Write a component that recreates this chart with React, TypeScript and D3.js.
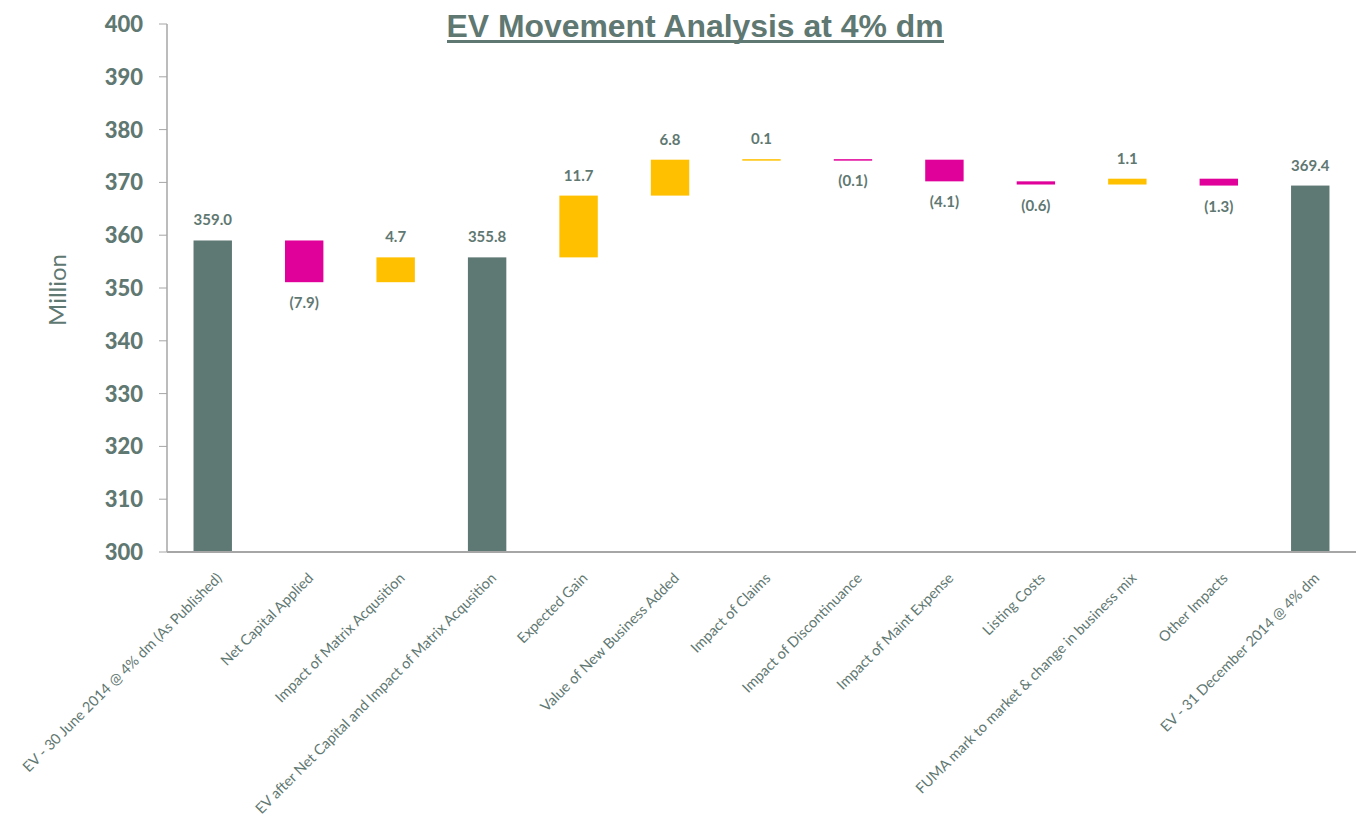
import React from "react";
import * as d3 from "d3";

// DATA
const categories = [
  "EV - 30 June 2014 @ 4% dm (As Published)",
  "Net Capital Applied",
  "Impact of Matrix Acqusition",
  "EV after Net Capital and Impact of Matrix Acqusition",
  "Expected Gain",
  "Value of New Business Added",
  "Impact of Claims",
  "Impact of Discontinuance",
  "Impact of Maint Expense",
  "Listing Costs",
  "FUMA mark to market & change  in business mix",
  "Other Impacts",
  "EV - 31 December 2014 @ 4% dm",
];
const values = [359.0, -7.9, 4.7, 355.8, 11.7, 6.8, 0.1, -0.1, -4.1, -0.6, 1.1, -1.3, 369.4];
const isTotal = [true, false, false, true, false, false, false, false, false, false, false, false, true];
const yTicks = [300, 310, 320, 330, 340, 350, 360, 370, 380, 390, 400];

const W = 1358;
const H = 820;
const TEAL = "#5E7873";
const MAGENTA = "#E0009A";
const GOLD = "#FFC000";
const TEXT = "#5F7872";
const LABEL_FONT = "Lato, 'Open Sans', sans-serif";

export default function App() {
  // SCALES
  const margin = { top: 24, right: 2, bottom: 268, left: 167 };
  const yScale = d3
    .scaleLinear()
    .domain([300, 400])
    .range([H - margin.bottom, margin.top]);
  const xScale = d3
    .scalePoint()
    .domain(categories)
    .range([margin.left, W - margin.right])
    .padding(0.5);
  const barW = xScale.step() * 0.42;
  const axisY = yScale(300);

  // WATERFALL STEPS
  let running = 0;
  const bars = values.map((v, i) => {
    let lo, hi;
    if (isTotal[i]) {
      running = v;
      lo = 300;
      hi = v;
    } else {
      const start = running;
      running = +(running + v).toFixed(1);
      lo = Math.min(start, running);
      hi = Math.max(start, running);
    }
    return { cat: categories[i], v, lo, hi, total: isTotal[i] };
  });

  const fmt = (v) => (v < 0 ? `(${Math.abs(v).toFixed(1)})` : v.toFixed(1));

  return (
    <svg
      width={W}
      height={H}
      style={{ position: "absolute", left: 0, top: 0, background: "#fff" }}
    >
      {/* TITLE */}
      <text
        x={695}
        y={37}
        textAnchor="middle"
        textLength={497}
        lengthAdjust="spacingAndGlyphs"
        fontFamily="'Liberation Sans', Arial, sans-serif"
        fontWeight="bold"
        fontSize={31}
        fill={TEXT}
      >
        EV Movement Analysis at 4% dm
      </text>
      <rect x={447} y={40} width={497} height={3} fill={TEXT} />

      {/* Y AXIS TITLE */}
      <text
        transform={`translate(66,290) rotate(-90)`}
        textAnchor="middle"
        fontFamily={LABEL_FONT}
        fontSize={24}
        fill={TEXT}
      >
        Million
      </text>

      {/* Y AXIS */}
      <line x1={margin.left} x2={margin.left} y1={yScale(400)} y2={axisY} stroke="#A6A6A6" strokeWidth={1.5} />
      {yTicks.map((t) => (
        <g key={t}>
          <line x1={margin.left - 8} x2={margin.left} y1={yScale(t)} y2={yScale(t)} stroke="#A6A6A6" strokeWidth={1} />
          <text
            x={143}
            y={yScale(t)}
            dy="0.36em"
            textAnchor="end"
            fontFamily={LABEL_FONT}
            fontWeight="900"
            fontSize={22}
            fill={TEXT}
          >
            {t}
          </text>
        </g>
      ))}

      {/* BARS */}
      {bars.map((b) => (
        <rect
          key={b.cat}
          x={xScale(b.cat) - barW / 2}
          y={yScale(b.hi)}
          width={barW}
          height={Math.max(1.5, yScale(b.lo) - yScale(b.hi))}
          fill={b.total ? TEAL : b.v < 0 ? MAGENTA : GOLD}
        />
      ))}

      {/* X AXIS */}
      <line x1={margin.left} x2={W - margin.right} y1={axisY} y2={axisY} stroke="#A6A6A6" strokeWidth={2} />

      {/* VALUE LABELS */}
      {bars.map((b) => (
        <text
          key={b.cat}
          x={xScale(b.cat)}
          y={b.v < 0 ? yScale(b.lo) + 26 : yScale(b.hi) - 15}
          textAnchor="middle"
          fontFamily={LABEL_FONT}
          fontWeight="bold"
          fontSize={15}
          fill={TEXT}
        >
          {fmt(b.v)}
        </text>
      ))}

      {/* CATEGORY LABELS */}
      {categories.map((c) => (
        <text
          key={c}
          transform={`translate(${xScale(c) + 10},${axisY + 27}) rotate(-45)`}
          textAnchor="end"
          fontFamily={LABEL_FONT}
          fontSize={14.5}
          fill={TEXT}
        >
          {c}
        </text>
      ))}
    </svg>
  );
}
